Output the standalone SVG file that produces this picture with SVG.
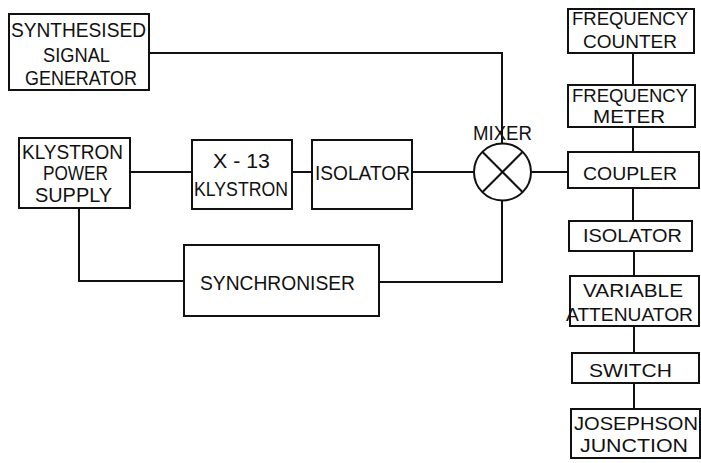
<svg xmlns="http://www.w3.org/2000/svg" width="701" height="463" viewBox="0 0 701 463">
<style>
.b{fill:#fff;stroke:#111;stroke-width:2}
.c{fill:none;stroke:#111;stroke-width:2}
text{font-family:"Liberation Sans",Arial,sans-serif;fill:#111;font-size:21px}
.s{font-size:19px}
</style>
<rect width="701" height="463" fill="#fff"/>
<g id="connectors">
<polyline class="c" points="149,53 502,53 502,143"/>
<line class="c" x1="130" y1="172" x2="192" y2="172"/>
<line class="c" x1="292" y1="172" x2="312" y2="172"/>
<line class="c" x1="412" y1="172" x2="474" y2="172"/>
<line class="c" x1="531" y1="172" x2="568" y2="172"/>
<polyline class="c" points="79,208 79,281 184,281"/>
<polyline class="c" points="379,282 502,282 502,200"/>
<line class="c" x1="633" y1="53" x2="633" y2="85"/>
<line class="c" x1="633" y1="127" x2="633" y2="152"/>
<line class="c" x1="633" y1="188" x2="633" y2="221"/>
<line class="c" x1="634" y1="251" x2="634" y2="276"/>
<line class="c" x1="634" y1="326" x2="634" y2="353"/>
<line class="c" x1="634" y1="383" x2="634" y2="409"/>
</g>
<g id="synth">
<rect class="b" x="9" y="14" width="140" height="76"/>
<text x="11" y="37" textLength="135" lengthAdjust="spacingAndGlyphs">SYNTHESISED</text>
<text x="43" y="62" textLength="67" lengthAdjust="spacingAndGlyphs">SIGNAL</text>
<text x="25" y="85" textLength="112" lengthAdjust="spacingAndGlyphs">GENERATOR</text>
</g>
<g id="kps">
<rect class="b" x="19" y="138" width="111" height="70"/>
<text x="22" y="159" textLength="101" lengthAdjust="spacingAndGlyphs">KLYSTRON</text>
<text x="43" y="180" textLength="65" lengthAdjust="spacingAndGlyphs">POWER</text>
<text x="35" y="202" textLength="77" lengthAdjust="spacingAndGlyphs">SUPPLY</text>
</g>
<g id="klystron">
<rect class="b" x="192" y="140" width="100" height="69"/>
<text x="213" y="168" textLength="57" lengthAdjust="spacingAndGlyphs">X - 13</text>
<text x="194" y="196" textLength="94" lengthAdjust="spacingAndGlyphs">KLYSTRON</text>
</g>
<g id="isolator1">
<rect class="b" x="312" y="140" width="100" height="69"/>
<text x="315" y="180" textLength="95" lengthAdjust="spacingAndGlyphs">ISOLATOR</text>
</g>
<g id="mixer">
<circle class="b" cx="502.5" cy="172" r="28.5"/>
<line class="c" x1="482.3" y1="151.8" x2="522.7" y2="192.2"/>
<line class="c" x1="522.7" y1="151.8" x2="482.3" y2="192.2"/>
<text x="473" y="140" font-size="17" textLength="59" lengthAdjust="spacingAndGlyphs">MIXER</text>
</g>
<g id="synchroniser">
<rect class="b" x="184" y="245" width="195" height="71"/>
<text x="200" y="290" textLength="155" lengthAdjust="spacingAndGlyphs">SYNCHRONISER</text>
</g>
<g id="freqcounter">
<rect class="b" x="568" y="9" width="126" height="44"/>
<text class="s" x="572" y="25" textLength="116" lengthAdjust="spacingAndGlyphs">FREQUENCY</text>
<text class="s" x="583" y="48" textLength="94" lengthAdjust="spacingAndGlyphs">COUNTER</text>
</g>
<g id="freqmeter">
<rect class="b" x="568" y="85" width="127" height="42"/>
<text class="s" x="572" y="102" textLength="116" lengthAdjust="spacingAndGlyphs">FREQUENCY</text>
<text class="s" x="593" y="123" textLength="72" lengthAdjust="spacingAndGlyphs">METER</text>
</g>
<g id="coupler">
<rect class="b" x="568" y="152" width="131" height="36"/>
<text class="s" x="583" y="180" textLength="94" lengthAdjust="spacingAndGlyphs">COUPLER</text>
</g>
<g id="isolator2">
<rect class="b" x="569" y="221" width="123" height="30"/>
<text class="s" x="583" y="242" textLength="99" lengthAdjust="spacingAndGlyphs">ISOLATOR</text>
</g>
<g id="attenuator">
<rect class="b" x="570" y="276" width="129" height="50"/>
<text class="s" x="583" y="297" textLength="100" lengthAdjust="spacingAndGlyphs">VARIABLE</text>
<text class="s" x="566" y="321" textLength="127" lengthAdjust="spacingAndGlyphs">ATTENUATOR</text>
</g>
<g id="switch">
<rect class="b" x="572" y="353" width="127" height="30"/>
<text class="s" x="589" y="377" textLength="83" lengthAdjust="spacingAndGlyphs">SWITCH</text>
</g>
<g id="josephson">
<rect class="b" x="571" y="409" width="129" height="49"/>
<text class="s" x="574" y="430" textLength="124" lengthAdjust="spacingAndGlyphs">JOSEPHSON</text>
<text class="s" x="580" y="452" textLength="108" lengthAdjust="spacingAndGlyphs">JUNCTION</text>
</g>
</svg>
